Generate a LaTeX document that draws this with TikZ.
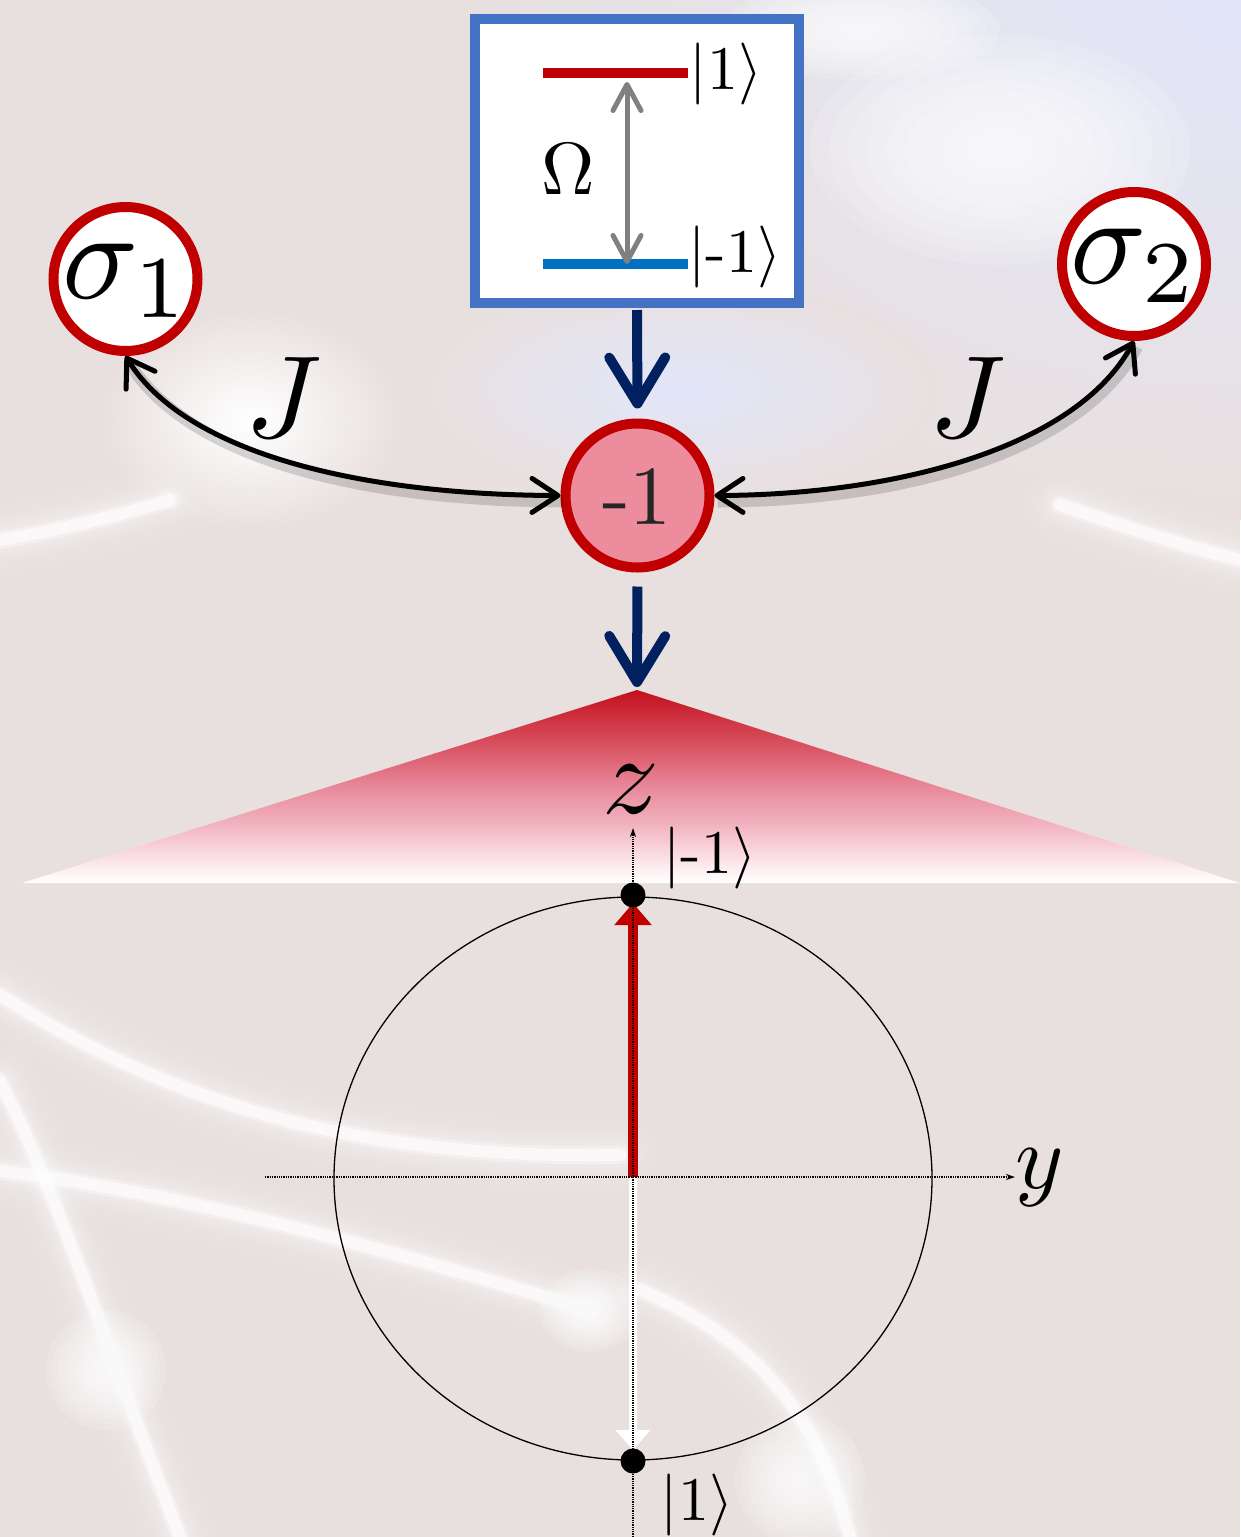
\documentclass[tikz,border=0pt]{standalone}
\usetikzlibrary{arrows.meta,calc}
\definecolor{bg}{RGB}{232,224,223}
\definecolor{dred}{RGB}{192,0,0}
\definecolor{boxblue}{RGB}{68,114,196}
\definecolor{lblue}{RGB}{0,112,192}
\definecolor{navy}{RGB}{0,32,96}
\definecolor{pinkfill}{RGB}{236,140,156}
\definecolor{levgray}{RGB}{128,128,128}
\definecolor{lav}{RGB}{226,230,250}
\definecolor{cA}{RGB}{196,16,28}
\definecolor{cB}{RGB}{218,85,101}
\definecolor{cC}{RGB}{232,136,154}
\definecolor{cD}{RGB}{242,180,192}
\definecolor{cE}{RGB}{252,232,236}
\pgfdeclareverticalshading{cone}{100bp}{color(0bp)=(white); color(25bp)=(white); color(30bp)=(cE); color(40bp)=(cD); color(50bp)=(cC); color(60bp)=(cB); color(75bp)=(cA); color(100bp)=(cA)}
\newcommand\glowline[1]{\foreach \w/\o in {70/.04,56/.05,44/.07,34/.1,25/.15,18/.3,12/.6}{\draw[white, line cap=round, line width=\w pt, opacity=\o] #1;}}
\newcommand\glowblob[3]{\foreach \f in {1,.9,.8,.7,.6,.5,.4,.3,.2}{\fill[white, opacity=.15] #1 ellipse [x radius=\f*#2, y radius=\f*#3];}}
\begin{document}
\begin{tikzpicture}[x=1pt,y=-1pt,
  qubit/.style={circle, draw=dred, line width=10pt, fill=white, minimum size=144pt, inner sep=0pt},
  flow/.style={draw=navy, line width=10pt, -{Straight Barb[length=46pt,width=56pt,round]}},
  coupling/.style={draw=black, line width=5pt,
     {Straight Barb[length=26pt,width=34pt,round]}-{Straight Barb[length=26pt,width=34pt,round]},
     preaction={draw=black, opacity=.15, line width=12pt, -, transform canvas={shift={(3pt,-6pt)}}}},
  axis/.style={densely dotted, line width=1.3pt, -{Stealth[length=9pt,width=6pt]}},
  lab/.style={inner sep=0pt, anchor=center},
]
% background
\fill[bg] (0,0) rectangle (1240,1537);
\path[use as bounding box] (0,0) rectangle (1240,1537);
\shade[inner color=lav, outer color=bg] (1240,0) ellipse [x radius=760, y radius=520];
\shade[inner color=lav, outer color=bg] (680,390) ellipse [x radius=260, y radius=110];
\glowblob{(1000,150)}{190}{115}
\glowblob{(860,30)}{140}{50}
\shade[inner color=white, outer color=bg] (250,420) ellipse [x radius=150, y radius=110];
\glowline{(0,540) .. controls (60,530) and (120,515) .. (170,500)}
\glowline{(1240,560) .. controls (1180,545) and (1120,525) .. (1060,505)}
\glowline{(0,995) .. controls (150,1090) and (330,1160) .. (620,1155)}
\glowline{(0,1171) .. controls (200,1195) and (420,1260) .. (590,1310)}
\glowline{(0,1081) .. controls (60,1200) and (100,1330) .. (180,1537)}
\glowblob{(106,1370)}{60}{60}
\glowblob{(590,1310)}{50}{42}
\glowblob{(800,1480)}{65}{65}
\glowline{(640,1290) .. controls (760,1340) and (820,1420) .. (850,1537)}

% level scheme box
\node[draw=boxblue, line width=10pt, fill=white, minimum width=324pt, minimum height=284pt, inner sep=0pt] (box) at (637,161) {};
\coordinate (upL) at (543,73);
\coordinate (upR) at (688,73);
\coordinate (dnL) at (543,264);
\coordinate (dnR) at (688,264);
\draw[dred, line width=10pt] (upL) -- (upR);
\draw[lblue, line width=10pt] (dnL) -- (dnR);
\coordinate (omTop) at (627,82);
\coordinate (omBot) at (627,264);
\draw[levgray, line width=5pt, {Straight Barb[length=26pt,width=28pt,round]}-{Straight Barb[length=26pt,width=28pt,round]}] (omTop) -- (omBot);
\node[lab, scale=7.4] (omega) at (568,169) {$\Omega$};
\node[lab, scale=6.2] (ketup) at (726,74) {$|1\rangle$};
\node[lab, scale=6.2] (ketdn) at (735,257) {$|\mbox{-1}\rangle$};

% qubits
\node[qubit] (s1) at (125.5,279) {};
\node[lab, scale=12.6] (s1t) at (127,281) {$\sigma_1$};
\node[qubit] (s2) at (1134,264) {};
\node[lab, scale=12.6] (s2t) at (1135,266) {$\sigma_2$};
\node[qubit, fill=pinkfill] (m) at (637.5,495.5) {};
\node[lab, scale=8.4, text=black!85] (mt) at (637,497) {-1};

% couplings
\draw[coupling] (s1.south) .. controls (190,460) and (380,495) .. (m.west);
\draw[coupling] (m.east) .. controls (890,495) and (1075,450) .. (s2.south);
\node[lab, scale=11.7] (J1) at (284,398) {$J$};
\node[lab, scale=11.7] (J2) at (968,398) {$J$};

% flow arrows
\coordinate (apex) at (637,690);
\draw[flow, shorten <=2pt, shorten >=10pt] (box.south) -- (m.north);
\draw[flow, shorten <=14pt, shorten >=3pt] (m.south) -- (apex);

% cone
\coordinate (baseL) at (22,883);
\coordinate (baseR) at (1240,883);
\shade[shading=cone] (apex) -- (baseL) -- (baseR) -- cycle;

% Bloch circle
\coordinate (O) at (633,1177);
\draw[line width=1.3pt] (633,1178.5) ellipse [x radius=299, y radius=281.5];
\coordinate (vtop) at (633,903);
\coordinate (vbot) at (633,1450);
\draw[white, line width=8pt, -{Triangle[length=20pt,width=34pt]}] (O) -- (vbot);
\draw[dred, line width=10pt, -{Triangle[length=22pt,width=36pt]}] (O) -- (vtop);
\coordinate (zS) at (633,1537);
\coordinate (zE) at (633,828);
\coordinate (yS) at (265,1177);
\coordinate (yE) at (1015,1177);
\draw[axis] (zS) -- (zE);
\draw[axis] (yS) -- (yE);
\fill (633,895) circle (12.5);
\fill (633,1461) circle (12.5);
\node[lab, scale=11.2] (zl) at (631,789) {$z$};
\node[lab, scale=9.2] (yl) at (1040,1178) {$y$};
\node[lab, scale=6.2] (kt) at (710,858) {$|\mbox{-1}\rangle$};
\node[lab, scale=6.2] (kb) at (697,1505) {$|1\rangle$};
\end{tikzpicture}
\end{document}
